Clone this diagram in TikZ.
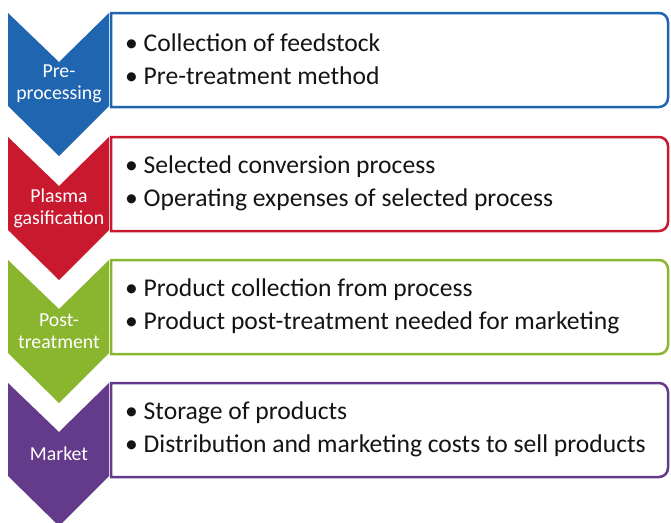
\documentclass[tikz,border=0pt]{standalone}
\usepackage{fontspec}
\setmainfont{Carlito}
\definecolor{stepblue}{RGB}{31,101,176}
\definecolor{stepred}{RGB}{200,25,46}
\definecolor{stepgreen}{RGB}{138,181,47}
\definecolor{steppurple}{RGB}{100,58,138}
\definecolor{bodytext}{RGB}{20,20,20}
\tikzset{
  chevron/.style={fill=#1, draw=none},
  stagebox/.style={draw=#1, line width=2.5pt, fill=white},
  stagelabel/.style={text=white, align=center, font=\fontsize{19.8}{22}\selectfont, inner sep=0pt},
  itemtext/.style={text=bodytext, align=left, anchor=west, font=\fontsize{25.6}{33}\selectfont, inner sep=0pt},
}
\begin{document}
\begin{tikzpicture}[x=1pt,y=-1pt]
\useasboundingbox (0,0) rectangle (671,522);
\foreach \t/\c/\name/\lab/\items in {
  13/stepblue/pre/{Pre-\\processing}/{\textbullet\ Collection of feedstock\\\textbullet\ Pre-treatment method},
  137/stepred/gas/{Plasma\\gasification}/{\textbullet\ Selected conversion process\\\textbullet\ Operating expenses of selected process},
  260/stepgreen/post/{Post-\\treatment}/{\textbullet\ Product collection from process\\\textbullet\ Product post-treatment needed for marketing},
  383/steppurple/mkt/{Market}/{\textbullet\ Storage of products\\\textbullet\ Distribution and marketing costs to sell products}}
{
  % downward chevron for the stage
  \fill[chevron=\c] (8,\t) -- (59,\t+49) -- (109,\t) -- (109,\t+93)
       -- (59,\t+143) -- (8,\t+93) -- cycle;
  % description box, square on the left and rounded on the right
  \draw[stagebox=\c] (111,\t) -- (600,\t) [rounded corners=9pt] -- (668,\t)
       -- (668,\t+94) -- (600,\t+94) [sharp corners] -- (111,\t+94) -- cycle;
  \node[stagelabel] (\name-label) at (59,\t+71) {\lab};
  \node[itemtext] (\name-items) at (125,\t+46) {\items};
}
\end{tikzpicture}
\end{document}
